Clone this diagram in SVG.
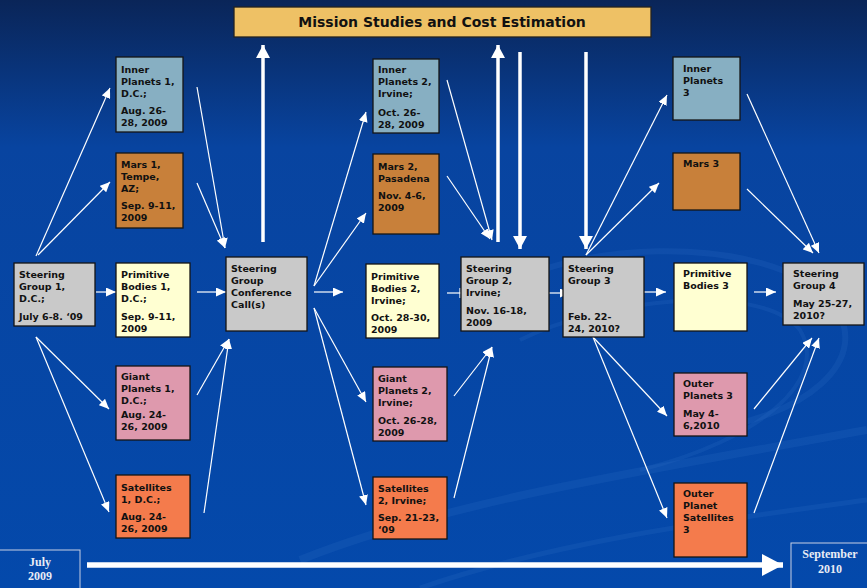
<svg xmlns="http://www.w3.org/2000/svg" width="867" height="588" viewBox="0 0 867 588">
<defs>
<linearGradient id="bg" x1="0" y1="0" x2="0" y2="1">
<stop offset="0" stop-color="#0a2558"/>
<stop offset="0.25" stop-color="#0844a0"/>
<stop offset="1" stop-color="#0449ab"/>
</linearGradient>
<marker id="ah" markerUnits="userSpaceOnUse" markerWidth="10" markerHeight="9" refX="10" refY="4.5" orient="auto">
<path d="M0,0 L10,4.5 L0,9 z" fill="#ffffff"/>
</marker>
<marker id="bh" markerUnits="userSpaceOnUse" markerWidth="14" markerHeight="14" refX="13" refY="7" orient="auto">
<path d="M0,0 L13,7 L0,14 z" fill="#ffffff"/>
</marker>
<marker id="th" markerUnits="userSpaceOnUse" markerWidth="22" markerHeight="22" refX="21" refY="11" orient="auto">
<path d="M0,0 L21,11 L0,22 z" fill="#ffffff"/>
</marker>
</defs>
<style>
.box{stroke:#151515;stroke-width:1.3}
.sg{fill:#c9c9c9}.ip{fill:#87afc2}.ma{fill:#c8803a}.pb{fill:#ffffd2}.gp{fill:#de99ad}.sa{fill:#f47b4c}
.t{font-family:"DejaVu Sans",Verdana,sans-serif;font-weight:bold;font-size:9.5px;fill:#111}
.c{stroke:#ffffff;stroke-width:1.2;fill:none;marker-end:url(#ah)}
.cb{stroke:#ffffff;stroke-width:3.5;fill:none;marker-end:url(#bh)}
.lab{font-family:"Liberation Serif","Times New Roman",serif;font-weight:bold;font-size:12px;fill:#e8ecf5;text-anchor:middle}
.sw{fill:none;stroke:#2f6cc4;stroke-opacity:0.22}
</style>
<rect x="0" y="0" width="867" height="588" fill="url(#bg)"/>
<g id="swooshes">
<path class="sw" stroke-width="6" d="M480,300 C560,240 760,230 830,300 C880,360 800,420 700,430"/>
<path class="sw" stroke-width="4" d="M520,340 C600,300 760,280 800,330 C830,380 760,440 640,470"/>
<path class="sw" stroke-width="8" d="M300,560 C450,500 650,470 867,430"/>
<path class="sw" stroke-width="5" d="M420,588 C560,540 720,520 867,500"/>
</g>
<g id="title">
<rect x="234" y="7" width="417" height="30" fill="#eec165" stroke="#222" stroke-width="1.3"/>
<text x="442" y="27" text-anchor="middle" font-family="'DejaVu Sans',Verdana,sans-serif" font-weight="bold" font-size="14" fill="#111">Mission Studies and Cost Estimation</text>
</g>
<g id="connectors">
<line class="cb" x1="263" y1="242" x2="263" y2="45"/>
<line class="cb" x1="498" y1="242" x2="498" y2="45"/>
<line class="cb" x1="520" y1="52" x2="520" y2="249"/>
<line class="cb" x1="586" y1="52" x2="586" y2="249"/>
<line class="c" x1="36" y1="256" x2="110" y2="88"/>
<line class="c" x1="38" y1="255" x2="110" y2="182"/>
<line class="c" x1="96" y1="292" x2="116" y2="292"/>
<line class="c" x1="36" y1="337" x2="109" y2="409"/>
<line class="c" x1="36" y1="337" x2="109" y2="512"/>
<line class="c" x1="197" y1="87" x2="225" y2="248"/>
<line class="c" x1="197" y1="183" x2="225" y2="248"/>
<line class="c" x1="197" y1="292" x2="226" y2="292"/>
<line class="c" x1="197" y1="395" x2="229" y2="339"/>
<line class="c" x1="204" y1="513" x2="229" y2="339"/>
<line class="c" x1="314" y1="286" x2="366" y2="112"/>
<line class="c" x1="314" y1="286" x2="366" y2="213"/>
<line class="c" x1="314" y1="292" x2="343" y2="292"/>
<line class="c" x1="314" y1="308" x2="366" y2="402"/>
<line class="c" x1="314" y1="308" x2="366" y2="505"/>
<line class="c" x1="447" y1="80" x2="492" y2="240"/>
<line class="c" x1="447" y1="176" x2="490" y2="239"/>
<line stroke="#fff" stroke-width="1.2" x1="447" y1="293" x2="461" y2="293"/>
<line stroke="#fff" stroke-width="1.2" x1="460" y1="288" x2="460" y2="298"/>
<line class="c" x1="454" y1="396" x2="492" y2="347"/>
<line class="c" x1="454" y1="498" x2="492" y2="347"/>
<line class="c" x1="549" y1="293" x2="570" y2="293"/>
<line class="c" x1="586" y1="255" x2="667" y2="95"/>
<line class="c" x1="586" y1="255" x2="659" y2="183"/>
<line class="c" x1="644" y1="292" x2="666" y2="292"/>
<line class="c" x1="593" y1="337" x2="667" y2="416"/>
<line class="c" x1="593" y1="337" x2="667" y2="518"/>
<line class="c" x1="754" y1="292" x2="776" y2="292"/>
<line class="c" x1="747" y1="94" x2="819" y2="253"/>
<line class="c" x1="747" y1="189" x2="813" y2="253"/>
<line class="c" x1="754" y1="409" x2="812" y2="338"/>
<line class="c" x1="754" y1="513" x2="819" y2="338"/>
<line x1="87" y1="565" x2="783" y2="565" stroke="#fff" stroke-width="5.5" marker-end="url(#th)"/>
</g>
<g id="sg1"><rect class="box sg" x="14" y="263" width="81" height="63"/>
<text class="t"><tspan x="19" y="278">Steering</tspan><tspan x="19" y="290">Group 1,</tspan><tspan x="19" y="302">D.C.;</tspan><tspan x="19" y="320">July 6-8. ‘09</tspan></text></g>
<g id="ip1"><rect class="box ip" x="116" y="57" width="67" height="75"/>
<text class="t"><tspan x="121" y="73">Inner</tspan><tspan x="121" y="85">Planets 1,</tspan><tspan x="121" y="97">D.C.;</tspan><tspan x="121" y="114">Aug. 26-</tspan><tspan x="121" y="126">28, 2009</tspan></text></g>
<g id="mars1"><rect class="box ma" x="116" y="153" width="67" height="75"/>
<text class="t"><tspan x="121" y="168">Mars 1,</tspan><tspan x="121" y="180">Tempe,</tspan><tspan x="121" y="192">AZ;</tspan><tspan x="121" y="209">Sep. 9-11,</tspan><tspan x="121" y="221">2009</tspan></text></g>
<g id="pb1"><rect class="box pb" x="116" y="263" width="74" height="74"/>
<text class="t"><tspan x="121" y="278">Primitive</tspan><tspan x="121" y="290">Bodies 1,</tspan><tspan x="121" y="302">D.C.;</tspan><tspan x="121" y="320">Sep. 9-11,</tspan><tspan x="121" y="332">2009</tspan></text></g>
<g id="gp1"><rect class="box gp" x="116" y="366" width="74" height="74"/>
<text class="t"><tspan x="121" y="380">Giant</tspan><tspan x="121" y="392">Planets 1,</tspan><tspan x="121" y="404">D.C.;</tspan><tspan x="121" y="418">Aug. 24-</tspan><tspan x="121" y="430">26, 2009</tspan></text></g>
<g id="sat1"><rect class="box sa" x="116" y="475" width="74" height="63"/>
<text class="t"><tspan x="121" y="491">Satellites</tspan><tspan x="121" y="503">1, D.C.;</tspan><tspan x="121" y="520">Aug. 24-</tspan><tspan x="121" y="532">26, 2009</tspan></text></g>
<g id="conf"><rect class="box sg" x="226" y="257" width="81" height="74"/>
<text class="t"><tspan x="231" y="272">Steering</tspan><tspan x="231" y="284">Group</tspan><tspan x="231" y="296">Conference</tspan><tspan x="231" y="308">Call(s)</tspan></text></g>
<g id="ip2"><rect class="box ip" x="373" y="59" width="66" height="74"/>
<text class="t"><tspan x="378" y="73">Inner</tspan><tspan x="378" y="85">Planets 2,</tspan><tspan x="378" y="97">Irvine;</tspan><tspan x="378" y="116">Oct. 26-</tspan><tspan x="378" y="128">28, 2009</tspan></text></g>
<g id="mars2"><rect class="box ma" x="373" y="154" width="66" height="80"/>
<text class="t"><tspan x="378" y="170">Mars 2,</tspan><tspan x="378" y="182">Pasadena</tspan><tspan x="378" y="199">Nov. 4-6,</tspan><tspan x="378" y="211">2009</tspan></text></g>
<g id="pb2"><rect class="box pb" x="366" y="264" width="73" height="74"/>
<text class="t"><tspan x="371" y="280">Primitive</tspan><tspan x="371" y="292">Bodies 2,</tspan><tspan x="371" y="304">Irvine;</tspan><tspan x="371" y="321">Oct. 28-30,</tspan><tspan x="371" y="333">2009</tspan></text></g>
<g id="gp2"><rect class="box gp" x="373" y="367" width="74" height="74"/>
<text class="t"><tspan x="378" y="382">Giant</tspan><tspan x="378" y="394">Planets 2,</tspan><tspan x="378" y="406">Irvine;</tspan><tspan x="378" y="424">Oct. 26-28,</tspan><tspan x="378" y="436">2009</tspan></text></g>
<g id="sat2"><rect class="box sa" x="373" y="477" width="74" height="62"/>
<text class="t"><tspan x="378" y="492">Satellites</tspan><tspan x="378" y="504">2, Irvine;</tspan><tspan x="378" y="521">Sep. 21-23,</tspan><tspan x="378" y="533">‘09</tspan></text></g>
<g id="sg2"><rect class="box sg" x="461" y="257" width="88" height="74"/>
<text class="t"><tspan x="466" y="272">Steering</tspan><tspan x="466" y="284">Group 2,</tspan><tspan x="466" y="296">Irvine;</tspan><tspan x="466" y="314">Nov. 16-18,</tspan><tspan x="466" y="326">2009</tspan></text></g>
<g id="sg3"><rect class="box sg" x="563" y="257" width="81" height="80"/>
<text class="t"><tspan x="568" y="272">Steering</tspan><tspan x="568" y="284">Group 3</tspan><tspan x="568" y="320">Feb. 22-</tspan><tspan x="568" y="332">24, 2010?</tspan></text></g>
<g id="ip3"><rect class="box ip" x="673" y="57" width="67" height="63"/>
<text class="t"><tspan x="683" y="72">Inner</tspan><tspan x="683" y="84">Planets</tspan><tspan x="683" y="96">3</tspan></text></g>
<g id="mars3"><rect class="box ma" x="673" y="153" width="67" height="57"/>
<text class="t"><tspan x="683" y="167">Mars 3</tspan></text></g>
<g id="pb3"><rect class="box pb" x="674" y="263" width="73" height="68"/>
<text class="t"><tspan x="683" y="277">Primitive</tspan><tspan x="683" y="289">Bodies 3</tspan></text></g>
<g id="op3"><rect class="box gp" x="674" y="373" width="73" height="63"/>
<text class="t"><tspan x="683" y="387">Outer</tspan><tspan x="683" y="399">Planets 3</tspan><tspan x="683" y="417">May 4-</tspan><tspan x="683" y="429">6,2010</tspan></text></g>
<g id="ops3"><rect class="box sa" x="674" y="483" width="73" height="74"/>
<text class="t"><tspan x="683" y="497">Outer</tspan><tspan x="683" y="509">Planet</tspan><tspan x="683" y="521">Satellites</tspan><tspan x="683" y="533">3</tspan></text></g>
<g id="sg4"><rect class="box sg" x="783" y="263" width="81" height="62"/>
<text class="t"><tspan x="793" y="277">Steering</tspan><tspan x="793" y="289">Group 4</tspan><tspan x="793" y="307">May 25-27,</tspan><tspan x="793" y="319">2010?</tspan></text></g>
<g id="july"><rect x="-2" y="550" width="82" height="40" fill="none" stroke="#c7cfe3" stroke-width="1"/>
<text class="lab"><tspan x="40" y="566">July</tspan><tspan x="40" y="580">2009</tspan></text></g>
<g id="september"><rect x="791" y="543" width="80" height="48" fill="none" stroke="#c7cfe3" stroke-width="1"/>
<text class="lab"><tspan x="830" y="558">September</tspan><tspan x="830" y="573">2010</tspan></text></g>
</svg>
